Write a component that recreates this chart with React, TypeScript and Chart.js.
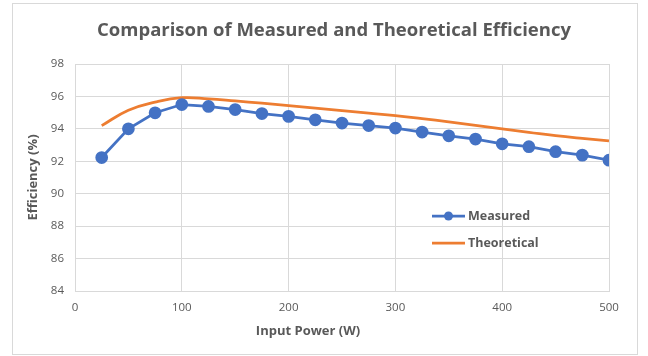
import React, { useEffect, useRef } from "react";
import { Chart, registerables } from "chart.js";

Chart.register(...registerables);

// Input power levels (W)
const inputPower = [25, 50, 75, 100, 125, 150, 175, 200, 225, 250, 275, 300, 325, 350, 375, 400, 425, 450, 475, 500];

// Efficiency (%)
const measured = [92.23, 94.0, 94.99, 95.5, 95.38, 95.19, 94.94, 94.77, 94.56, 94.36, 94.2, 94.05, 93.8, 93.57, 93.37, 93.08, 92.9, 92.59, 92.38, 92.07];
const theoretical = [94.2, 95.15, 95.65, 95.92, 95.85, 95.72, 95.58, 95.43, 95.28, 95.12, 94.97, 94.82, 94.63, 94.43, 94.22, 94.0, 93.79, 93.58, 93.41, 93.26];

const seriesNames = ["Measured", "Theoretical"];
const titleText = "Comparison of Measured and Theoretical Efficiency";
const xTitle = "Input Power (W)";
const yTitle = "Efficiency (%)";

const BLUE = "#4472C4";
const ORANGE = "#ED7D31";
const TEXT = "#595959";
const GRID = "#d9d9d9";
const FONT = "'Open Sans', Lato, sans-serif";

// Chart title, x-axis title and an in-plot legend
const annotations = {
  id: "annotations",
  afterDraw(chart: any) {
    const { ctx } = chart;
    ctx.save();
    ctx.fillStyle = TEXT;
    ctx.textBaseline = "middle";
    ctx.textAlign = "center";
    ctx.font = `bold 18.5px ${FONT}`;
    ctx.fillText(titleText, 334, 31);
    ctx.font = `bold 13px ${FONT}`;
    ctx.fillText(xTitle, 308, 331);

    const rows = [216, 243];
    chart.data.datasets.forEach((ds: any, i: number) => {
      const y = rows[i];
      const x0 = 432;
      const x1 = 465;
      ctx.strokeStyle = ds.borderColor;
      ctx.lineWidth = 2.75;
      ctx.beginPath();
      ctx.moveTo(x0, y);
      ctx.lineTo(x1, y);
      ctx.stroke();
      if (ds.pointRadius > 0) {
        ctx.fillStyle = ds.pointBackgroundColor;
        ctx.beginPath();
        ctx.arc((x0 + x1) / 2, y, 4.5, 0, Math.PI * 2);
        ctx.fill();
      }
      ctx.fillStyle = TEXT;
      ctx.font = `bold 12.5px ${FONT}`;
      ctx.textAlign = "left";
      ctx.fillText(ds.label, 468, y);
    });
    ctx.restore();
  },
};

export default function App() {
  const canvasRef = useRef<HTMLCanvasElement | null>(null);

  useEffect(() => {
    const canvas = canvasRef.current;
    if (!canvas) return;
    const chart = new Chart(canvas, {
      type: "line",
      data: {
        datasets: [
          {
            label: seriesNames[0],
            data: inputPower.map((x, i) => ({ x, y: measured[i] })),
            borderColor: BLUE,
            backgroundColor: BLUE,
            pointBackgroundColor: BLUE,
            pointBorderColor: BLUE,
            pointRadius: 5,
            pointHoverRadius: 5,
            borderWidth: 2.75,
            tension: 0,
            order: 1,
          },
          {
            label: seriesNames[1],
            data: inputPower.map((x, i) => ({ x, y: theoretical[i] })),
            borderColor: ORANGE,
            backgroundColor: ORANGE,
            pointBackgroundColor: ORANGE,
            pointRadius: 0,
            pointHoverRadius: 0,
            borderWidth: 2.75,
            tension: 0.45,
            order: 2,
          },
        ],
      },
      options: {
        responsive: false,
        animation: false,
        devicePixelRatio: 1,
        layout: { padding: { left: 12, right: 39, top: 64, bottom: 10 } },
        plugins: {
          legend: { display: false },
          tooltip: { enabled: false },
          title: { display: false },
        },
        scales: {
          x: {
            type: "linear",
            min: 0,
            max: 500,
            afterFit: (scale: any) => {
              scale.height = 55;
            },
            ticks: { stepSize: 100, color: TEXT, font: { family: FONT, size: 11.5 }, padding: 10 },
            grid: { color: GRID, drawTicks: false, lineWidth: 1 },
            border: { color: GRID },
          },
          y: {
            min: 84,
            max: 98,
            afterFit: (scale: any) => {
              scale.width = 63;
            },
            ticks: { stepSize: 2, color: TEXT, font: { family: FONT, size: 11.5 }, padding: 11 },
            grid: { color: GRID, drawTicks: false, lineWidth: 1 },
            border: { display: false },
            title: {
              display: true,
              text: yTitle,
              color: TEXT,
              font: { family: FONT, size: 13, weight: "bold" },
              padding: { top: 13, bottom: 0 },
            },
          },
        },
      },
      plugins: [annotations],
    });
    return () => chart.destroy();
  }, []);

  return (
    <div style={{ position: "absolute", left: 0, top: 0, width: 648, height: 356, background: "#fff" }}>
      <canvas ref={canvasRef} width={648} height={356} style={{ display: "block" }} />
      <div
        style={{
          position: "absolute",
          left: 12,
          top: 3,
          width: 624,
          height: 350,
          border: `1px solid ${GRID}`,
          pointerEvents: "none",
        }}
      />
    </div>
  );
}
